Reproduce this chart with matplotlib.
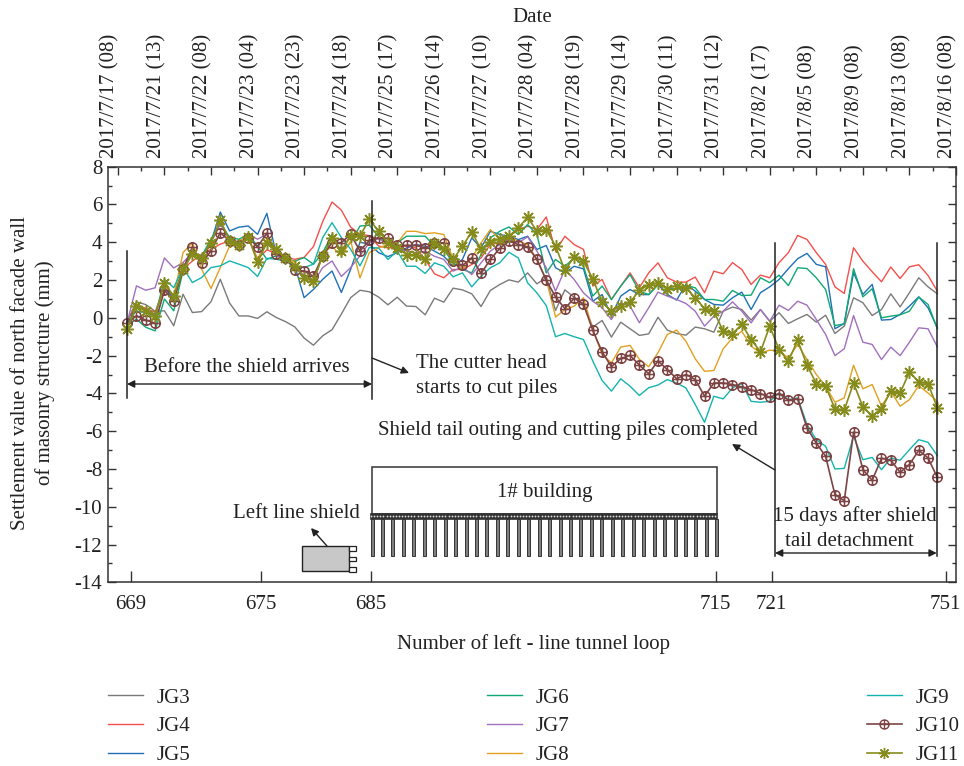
import numpy as np
import matplotlib
matplotlib.use("Agg")
import matplotlib.pyplot as plt
from matplotlib.path import Path
from matplotlib.patches import Rectangle, FancyArrowPatch
from matplotlib.transforms import Affine2D, ScaledTranslation
from matplotlib.ticker import MultipleLocator, FixedLocator

plt.rcParams['font.family'] = ['Liberation Serif', 'DejaVu Serif']
plt.rcParams['axes.unicode_minus'] = False

JG3 = [-0.2,0.85,0.7,0.35,0.37,-0.42,1.25,0.28,0.33,0.85,
       2.04,0.78,0.1,0.1,-0.03,0.32,0.02,-0.2,-0.48,-1.07,
       -1.45,-0.95,-0.63,0.2,1.07,1.46,1.38,1.1,0.69,1.09,
       0.62,0.6,0.16,1.04,0.83,1.57,1.48,1.27,0.6,1.45,
       1.76,2.01,1.89,2.38,1.8,2.13,0.39,1.48,1.09,0.65,
       -0.49,-0.14,-1.02,-0.23,-0.58,-0.93,-0.85,0.03,-0.65,-0.83,
       -0.92,-0.49,-0.58,-0.76,0.35,0.57,0.44,-0.12,0.44,-0.18,
       0.27,-0.3,-0.05,0.18,-0.23,0.14,-0.83,-0.44,1.06,0.8,
       0.12,0.44,1.27,0.58,1.33,2.12,1.64,1.27]
JG4 = [-0.2,0.7,0.5,0.3,1.6,1.1,2.6,3.0,3.37,3.63,
       3.9,4.07,4.0,4.2,3.1,3.6,3.4,3.2,3.1,3.2,
       3.77,5.1,6.13,5.7,4.8,4.42,4.35,3.8,3.7,3.75,
       3.8,3.7,3.09,2.33,2.12,2.56,2.56,2.82,3.17,3.88,
       3.97,4.32,4.67,4.85,4.67,5.34,3.53,4.32,3.88,3.62,
       1.68,2.03,0.97,1.68,2.38,1.59,2.38,2.91,2.12,1.89,
       1.89,2.16,1.33,2.47,2.33,2.92,2.56,1.77,2.26,2.12,
       2.92,3.45,4.36,4.15,3.45,2.83,1.64,1.29,3.71,3.0,
       2.44,1.91,2.69,2.08,2.7,2.81,2.24,1.41]
JG5 = [-0.2,0.6,0.4,0.2,1.6,1.0,2.7,3.4,3.2,4.0,
       5.6,4.6,4.8,4.86,4.42,5.53,3.37,3.05,2.75,1.07,
       1.5,2.04,2.48,1.34,2.57,4.0,3.9,3.45,3.24,3.45,
       3.7,3.88,3.79,3.53,3.26,2.73,3.09,4.23,3.7,4.58,
       4.41,4.32,4.14,4.32,3.62,3.83,2.65,2.38,2.73,2.59,
       0.88,1.23,0.09,1.15,1.5,1.23,1.23,1.76,1.24,0.94,
       1.77,1.41,0.97,0.71,0.67,1.06,1.36,0.44,1.33,1.64,
       2.03,2.6,3.13,3.41,2.83,2.7,-0.58,-0.3,2.39,1.24,
       1.77,-0.12,-0.09,0.18,0.62,1.11,0.53,-0.53]
JG6 = [-0.4,-0.07,-0.5,-0.69,1.0,0.37,2.48,3.45,3.28,4.16,
       5.04,4.25,4.16,4.42,3.8,3.1,3.28,3.1,3.0,3.19,
       2.84,3.45,4.42,3.45,3.98,4.86,4.9,4.3,3.9,3.97,
       4.32,4.32,4.32,3.79,3.62,2.91,2.56,2.38,3.35,4.23,
       4.58,4.81,4.41,4.94,4.41,2.38,3.09,2.73,3.17,2.73,
       1.15,1.68,0.97,1.68,2.29,1.41,1.23,1.76,1.59,1.5,
       1.71,1.59,0.97,0.97,0.88,1.45,1.18,1.2,2.12,1.86,
       2.26,1.71,2.65,2.61,2.12,1.5,-0.41,-0.32,2.6,1.11,
       1.54,0.0,0.09,0.16,0.35,1.1,0.71,-0.58]
JG7 = [-0.25,1.69,1.46,1.59,3.17,2.64,2.93,3.45,3.19,3.98,
       4.95,4.16,3.98,4.42,4.16,4.42,3.28,3.1,2.75,2.22,
       1.87,2.66,3.01,2.19,2.66,3.28,3.98,4.2,3.88,3.7,
       3.53,3.44,3.53,3.26,3.09,2.47,2.7,2.29,2.91,3.53,
       3.88,4.14,3.97,4.29,3.53,2.65,1.41,2.56,2.03,1.32,
       0.88,0.53,-0.09,0.79,0.62,-0.26,0.53,1.36,1.15,0.97,
       0.76,0.35,-0.44,0.09,0.35,0.85,0.35,-0.27,0.44,-0.18,
       0.67,0.39,0.88,0.67,-0.09,-0.88,-2.0,-1.64,0.12,-1.29,
       -1.41,-2.21,-1.55,-2.0,-1.29,-0.53,-0.58,-1.54]
JG8 = [-0.25,0.55,0.37,0.1,1.69,1.16,3.45,3.98,2.57,1.55,
       2.66,3.8,4.07,4.25,3.1,4.16,3.45,3.28,2.92,2.04,
       1.78,3.45,3.77,3.28,4.07,2.11,3.45,3.7,3.88,3.97,
       4.58,4.58,4.46,4.5,4.41,3.09,2.56,3.17,3.97,4.67,
       4.14,4.32,4.06,3.88,3.09,2.03,0.04,0.44,0.62,1.06,
       -0.62,-1.94,-2.38,-1.55,-1.46,-2.2,-2.59,-1.85,-0.88,-0.65,
       -1.24,-2.17,-2.83,-2.79,-1.64,-1.06,-0.71,-1.5,-1.86,-1.71,
       -1.77,-2.12,-1.41,-2.21,-3.0,-3.62,-4.47,-4.24,-2.51,-3.76,
       -3.53,-4.68,-3.89,-4.68,-4.33,-3.59,-3.98,-4.42]
JG9 = [-0.25,0.37,0.25,0.1,2.04,1.6,2.66,1.87,2.13,2.66,
       2.75,3.01,2.84,2.66,2.19,3.15,3.1,3.0,2.75,2.66,
       2.84,4.25,5.04,4.25,3.63,2.75,3.72,3.7,3.09,3.53,
       2.73,2.73,2.35,2.91,2.73,2.17,2.38,1.64,2.2,2.65,
       2.91,3.47,3.17,1.85,1.32,0.65,-1.0,-0.83,-1.0,-1.15,
       -2.29,-3.32,-3.88,-3.23,-3.62,-4.11,-3.7,-3.56,-3.27,-3.45,
       -3.71,-4.59,-5.53,-4.15,-4.29,-3.71,-3.48,-4.42,-4.47,-4.42,
       -3.98,-4.33,-4.24,-5.65,-6.45,-6.8,-8.0,-7.97,-6.27,-7.51,
       -7.39,-8.04,-7.42,-7.54,-6.98,-6.45,-6.59,-7.3]
JG10 = [-0.25,0.1,-0.12,-0.28,1.46,0.9,2.57,3.75,2.89,3.54,
        4.51,4.07,3.84,4.25,3.75,4.48,3.37,3.19,2.52,2.48,
        2.19,3.28,3.98,3.98,4.42,3.54,4.1,4.25,4.2,3.83,
        3.83,3.83,3.7,3.97,3.97,3.03,2.77,3.17,2.35,3.09,
        3.67,4.06,3.88,3.76,3.09,1.99,1.11,0.49,1.04,0.74,
        -0.67,-1.8,-2.59,-2.15,-1.99,-2.5,-2.96,-2.28,-2.74,-3.22,
        -3.0,-3.27,-4.15,-3.45,-3.45,-3.53,-3.66,-3.8,-4.01,-4.2,
        -4.01,-4.36,-4.29,-5.83,-6.63,-7.33,-9.36,-9.68,-6.06,-8.04,
        -8.6,-7.44,-7.54,-8.18,-7.77,-7.01,-7.42,-8.45]
JG11 = [-0.6,0.63,0.37,0.1,1.83,1.16,2.57,3.37,3.19,3.98,
        5.18,4.07,3.84,4.3,2.93,3.98,3.63,3.19,2.75,2.13,
        1.96,3.28,4.25,3.54,4.33,4.33,5.22,4.58,3.97,3.7,
        3.35,3.35,3.09,3.97,3.62,3.09,3.79,4.55,3.62,4.0,
        4.18,4.32,4.76,5.33,4.58,4.67,3.79,2.52,3.23,3.0,
        2.06,0.83,0.35,0.65,0.83,1.45,1.75,1.85,1.55,1.71,
        1.59,1.06,0.49,0.35,-0.71,-0.83,-0.35,-1.15,-1.8,-0.44,
        -1.68,-2.3,-1.18,-2.51,-3.48,-3.62,-4.82,-4.89,-3.45,-4.72,
        -5.18,-4.82,-3.89,-3.98,-2.86,-3.39,-3.48,-4.77]

series_names = ['JG3','JG4','JG5','JG6','JG7','JG8','JG9','JG10','JG11']
series_values = [JG3,JG4,JG5,JG6,JG7,JG8,JG9,JG10,JG11]
series_colors = ['#7a7a7a','#f4504c','#1f70b8','#10a874','#a070bc','#e2a020','#14b4ae','#7e4444','#868c1c']

date_labels = ['2017/7/17 (08)','2017/7/21 (13)','2017/7/22 (08)','2017/7/23 (04)','2017/7/23 (23)',
               '2017/7/24 (18)','2017/7/25 (17)','2017/7/26 (14)','2017/7/27 (10)','2017/7/28 (04)',
               '2017/7/28 (19)','2017/7/29 (14)','2017/7/30 (11)','2017/7/31 (12)','2017/8/2 (17)',
               '2017/8/5 (08)','2017/8/9 (08)','2017/8/13 (08)','2017/8/16 (08)']
loop_labels = ['669','675','685','715','721','751']
loop_ticks = [0.4,14.4,26.2,63.2,69.2,87.9]
date_ticks = np.arange(-1, 90, 5)

W, H = 964, 766
fig = plt.figure(figsize=(W/100, H/100), dpi=100)
L, R, T, B = 107.7, 956.0, 166.7, 582.3
ax = fig.add_axes([L/W, 1-B/H, (R-L)/W, (B-T)/H])
ax.set_xlim(-2.09, 89.0)
ax.set_ylim(-14, 8)

circ = Path.unit_circle()
cross = Path([(-1,0),(1,0),(0,-1),(0,1)], [Path.MOVETO,Path.LINETO,Path.MOVETO,Path.LINETO])
oplus = Path.make_compound_path(circ, cross)

for name, vals, col in zip(series_names, series_values, series_colors):
    kw = dict(lw=1.0)
    if name == 'JG10':
        kw = dict(lw=1.2, marker=oplus, ms=6.8, mfc='none', mec=col, mew=1.1)
    elif name == 'JG11':
        kw = dict(lw=1.2, marker=(8,2,0), ms=9, mec=col, mew=1.1)
    ax.plot(np.arange(len(vals)), vals, color=col, label=name, **kw)

ink = '#333333'
for s in ax.spines.values():
    s.set_linewidth(1.1); s.set_color(ink)
FS = 15
ax.yaxis.set_major_locator(MultipleLocator(2))
ax.yaxis.set_minor_locator(MultipleLocator(1))
ax.tick_params(axis='y', which='major', direction='in', length=6, width=1, left=True, right=True,
               labelsize=FS, pad=4, color=ink, labelcolor='#222222')
ax.tick_params(axis='y', which='minor', direction='in', length=3, width=1, left=True, right=True, color=ink)
ax.set_xticks(loop_ticks)
ax.set_xticklabels(loop_labels)
ax.tick_params(axis='x', which='major', direction='in', length=8, width=1, bottom=True, top=False,
               labelsize=FS, pad=9, color=ink, labelcolor='#222222')
ax.set_ylabel('Settlement value of north facade wall\nof masonry structure (mm)', fontsize=FS, color='#222222',
              linespacing=1.3, va='center', ha='center')
ax.yaxis.set_label_coords(-(L-33)/(R-L), (B-373)/(B-T))
ax.set_xlabel('Number of left - line tunnel loop', fontsize=FS, color='#222222', va='center')
ax.xaxis.set_label_coords((533-L)/(R-L), -(644-B)/(B-T))

top = ax.secondary_xaxis('top')
top.set_xticks(date_ticks)
top.set_xticklabels(date_labels, rotation=90, ha='center', va='bottom')
top.xaxis.set_minor_locator(FixedLocator(date_ticks[:-1] + 2.5))
top.tick_params(axis='x', which='major', direction='in', length=5.5, width=1, labelsize=FS, pad=6,
                color=ink, labelcolor='#222222')
top.tick_params(axis='x', which='minor', direction='in', length=3, width=1, color=ink)
top.spines['top'].set_visible(False)
off = ScaledTranslation(-8/100, 0, fig.dpi_scale_trans)
for lab in top.get_xticklabels():
    lab.set_transform(lab.get_transform() + off)

# annotation layer in image pixels
px = Affine2D().scale(1, -1).translate(0, H)

def vline(x, y0, y1, lw=1.1):
    ax.plot([x, x], [y0, y1], color='#222222', lw=lw, transform=px, clip_on=False, zorder=6)

def arrow(p0, p1, style='-|>'):
    ax.add_patch(FancyArrowPatch(p0, p1, arrowstyle=style, mutation_scale=11, lw=1.0, color='#222222',
                                 transform=px, clip_on=False, zorder=7, shrinkA=0, shrinkB=0))

def label(x, y, s, ha='center', fs=FS):
    ax.text(x, y + 2, s, transform=px, ha=ha, va='center', fontsize=fs, color='#222222', clip_on=False, zorder=8)

vline(127, 251, 398); vline(372, 201, 399)
vline(775, 243, 556); vline(936.7, 243, 556)
arrow((127, 384), (372, 384), '<|-|>')
arrow((775, 553), (936.7, 553), '<|-|>')
arrow((372, 358), (409, 373))
arrow((775, 470), (732, 444))
arrow((327, 546), (311, 528))
label(247, 366, 'Before the shield arrives')
label(416, 361, 'The cutter head', ha='left')
label(416, 386, 'starts to cut piles', ha='left')
label(568, 429, 'Shield tail outing and cutting piles completed')
label(855, 514, '15 days after shield')
label(849, 540, 'tail detachment')
label(545, 491, '1# building')
label(296, 512, 'Left line shield')
label(532, 15, 'Date')

# building sketch
ax.add_patch(Rectangle((372, 467), 345, 47, fc='white', ec='#333333', lw=1.1, transform=px, clip_on=False, zorder=5))
ax.add_patch(Rectangle((370, 513), 347, 6, fc='#333333', ec='#333333', lw=0.5, transform=px, clip_on=False, zorder=5))
pile_x = np.arange(372, 717.5, 10.45)
dot_x = np.arange(371, 717, 3.1)
ax.plot(dot_x, np.full(len(dot_x), 516.2), ls='none', marker='o', ms=1.3,
        mfc='#dddddd', mec='none', transform=px, clip_on=False, zorder=6)
for x in pile_x:
    ax.add_patch(Rectangle((x-1.5, 519), 3, 37, fc='#808080', ec='#333333', lw=0.7, transform=px, clip_on=False, zorder=5))

# shield sketch
ax.add_patch(Rectangle((301.7, 546), 47.6, 25, fc='#c8c8c8', ec='#222222', lw=1.0, transform=px, clip_on=False, zorder=5))
for y in (546, 556.5, 567):
    ax.add_patch(Rectangle((349.3, y), 6.5, 4.5, fc='white', ec='#222222', lw=0.9, transform=px, clip_on=False, zorder=5))

leg = ax.legend(loc='upper left', bbox_to_anchor=(108/W, 1-688/H), bbox_transform=fig.transFigure, ncol=3,
                frameon=False, fontsize=FS, handlelength=1.67, handletextpad=0.67, columnspacing=14.25,
                labelspacing=0.44, borderaxespad=0, borderpad=0)
for t in leg.get_texts():
    t.set_color('#222222')
for h in leg.legend_handles:
    if h.get_marker() not in (None, 'None', ''):
        h.set_markersize(6.5 if h.get_label() == 'JG10' else 8)
        h.set_markeredgewidth(1.0)

fig.savefig('out.png', dpi=100)
